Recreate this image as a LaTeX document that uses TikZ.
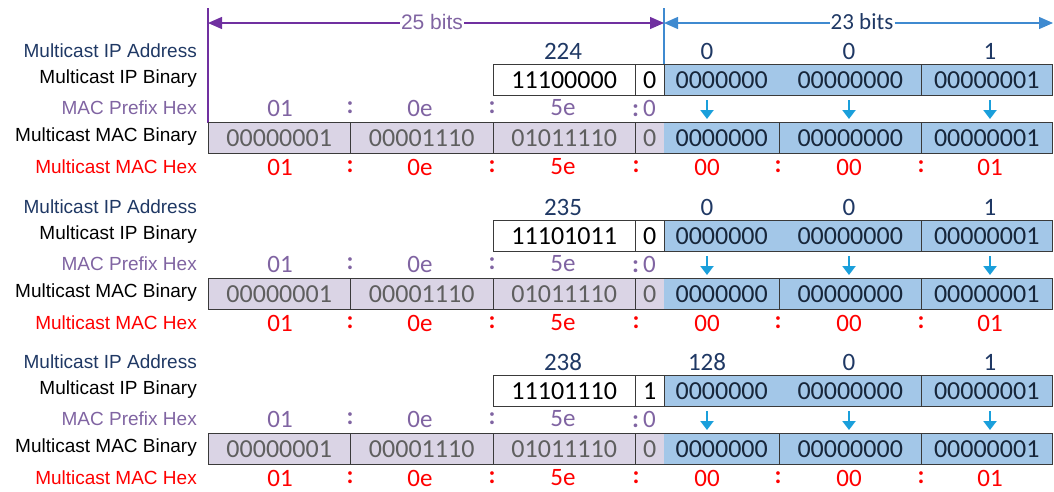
\documentclass[tikz,border=0pt]{standalone}
\usepackage{fontspec}
\setmainfont{Liberation Sans}
\newfontfamily\numfont{Carlito}
\usetikzlibrary{arrows.meta}
\definecolor{navy}{HTML}{1F3864}
\definecolor{prefixpurple}{HTML}{8064A2}
\definecolor{dimpurple}{HTML}{7030A0}
\definecolor{dimblue}{HTML}{3F8AD0}
\definecolor{lavender}{HTML}{DAD4E5}
\definecolor{lavtext}{HTML}{5F5F5F}
\definecolor{cellblue}{HTML}{A3C7E8}
\definecolor{celltext}{HTML}{17263A}
\definecolor{borderg}{HTML}{3A3A3A}
\definecolor{arrowcyan}{HTML}{1A9FDB}
\definecolor{hexred}{HTML}{FF0000}
\begin{document}
\begin{tikzpicture}[x=1pt,y=-1pt,
  lbl/.style={anchor=east,inner sep=0pt,font=\fontsize{19}{22}\selectfont},
  num/.style={inner sep=0pt,font=\numfont\fontsize{25}{30}\selectfont},
  colon/.style={inner sep=0pt,font=\numfont\bfseries\fontsize{25}{30}\selectfont},
  cell/.style={anchor=west,inner sep=0pt,minimum height=30pt,
    font=\numfont\fontsize{26}{30}\selectfont},
  whitecell/.style={cell,fill=white,text=black},
  bluecell/.style={cell,fill=cellblue,text=celltext},
  lavcell/.style={cell,fill=lavender,text=lavtext},
  border/.style={draw=borderg,line width=0.9pt},
  dimline/.style={line width=1.3pt},
  darr/.style={draw=arrowcyan,line width=2.6pt,-{Triangle[length=9pt,width=13pt]}},
]
\useasboundingbox (0,0) rectangle (1054,491);

% bit-count dimension lines
\coordinate (ptop) at (208,8);
\coordinate (pbot) at (208,123);
\coordinate (btop) at (664,8);
\coordinate (bbot) at (664,65);
\coordinate (pl) at (208,23);
\coordinate (pr) at (664,23);
\coordinate (bl) at (664,23);
\coordinate (br) at (1053,23);
\draw[dimpurple,line width=1.2pt] (ptop) -- (pbot);
\draw[dimblue,line width=1.2pt] (btop) -- (bbot);
\node[inner sep=1pt,text=prefixpurple,font=\fontsize{21}{24}\selectfont] (b25) at (432,22) {25 bits};
\node[inner sep=1pt,text=navy,font=\numfont\fontsize{23}{26}\selectfont] (b23) at (862,22) {23 bits};
\draw[dimpurple,dimline,-{Triangle[length=14pt,width=12pt]}] (b25.west |- pl) -- (pl);
\draw[dimpurple,dimline,-{Triangle[length=14pt,width=12pt]}] (b25.east |- pr) -- (pr);
\draw[dimblue,dimline,-{Triangle[length=14pt,width=12pt]}] (b23.west |- bl) -- (bl);
\draw[dimblue,dimline,-{Triangle[length=14pt,width=12pt]}] (b23.east |- br) -- (br);

\foreach \b/\oy/\first/\fbits/\nbit/\second in
  {1/0/224/11100000/0/0, 2/156/235/11101011/0/0, 3/311/238/11101110/1/128}{
\begin{scope}[shift={(0,\oy)}]
  % row labels
  \node[lbl,text=navy] (la\b) at (197,51) {Multicast IP Address};
  \node[lbl,text=black] (lb\b) at (197,79) {Multicast IP Binary};
  \node[lbl,text=prefixpurple] (lc\b) at (197,108) {MAC Prefix Hex};
  \node[lbl,text=black] (ld\b) at (197,137) {Multicast MAC Binary};
  \node[lbl,text=hexred] (le\b) at (197,167) {Multicast MAC Hex};

  % dotted-decimal address
  \node[num,text=navy] (ipa\b) at (563,51) {\first};
  \node[num,text=navy] (ipb\b) at (707,51) {\second};
  \node[num,text=navy] (ipc\b) at (849,51) {0};
  \node[num,text=navy] (ipd\b) at (990,51) {1};

  % IP binary row
  \node[whitecell,minimum width=142pt] (ib\b a) at (493,80) {\fbits};
  \node[whitecell,minimum width=29pt] (ib\b b) at (635,80) {\nbit};
  \node[bluecell,minimum width=115pt] (ib\b c) at (664,80) {0000000};
  \node[bluecell,minimum width=142pt] (ib\b d) at (779,80) {00000000};
  \node[bluecell,minimum width=131pt] (ib\b e) at (921,80) {00000001};
  \draw[border] (ib\b a.north west) rectangle (ib\b e.south east);
  \foreach \c in {a,d}{\draw[border] (ib\b\c.north east) -- (ib\b\c.south east);}
  \draw[border] (ib\b c.north west) -- (ib\b c.south west);

  % fixed MAC prefix
  \node[num,text=prefixpurple] (pa\b) at (280,108) {01};
  \node[colon,text=prefixpurple] (pc1\b) at (350,108) {:};
  \node[num,text=prefixpurple] (pb\b) at (420,108) {0e};
  \node[colon,text=prefixpurple] (pc2\b) at (492,108) {:};
  \node[num,text=prefixpurple] (pd\b) at (563,108) {5e};
  \node[num,text=prefixpurple] (pe\b) at (644,108) {{\bfseries:}\,0};

  % copied low-order bits
  \coordinate (ta\b) at (707,100);
  \coordinate (tb\b) at (849,100);
  \coordinate (tc\b) at (990,100);
  \coordinate (ua\b) at (707,119);
  \coordinate (ub\b) at (849,119);
  \coordinate (uc\b) at (990,119);
  \draw[darr] (ta\b) -- (ua\b);
  \draw[darr] (tb\b) -- (ub\b);
  \draw[darr] (tc\b) -- (uc\b);

  % MAC binary row
  \node[lavcell,minimum width=142pt] (mb\b a) at (208,138) {00000001};
  \node[lavcell,minimum width=143pt] (mb\b b) at (350,138) {00001110};
  \node[lavcell,minimum width=142pt] (mb\b c) at (493,138) {01011110};
  \node[lavcell,minimum width=29pt] (mb\b d) at (635,138) {0};
  \node[bluecell,minimum width=115pt] (mb\b e) at (664,138) {0000000};
  \node[bluecell,minimum width=142pt] (mb\b f) at (779,138) {00000000};
  \node[bluecell,minimum width=131pt] (mb\b g) at (921,138) {00000001};
  \draw[border] (mb\b a.north west) rectangle (mb\b g.south east);
  \foreach \c in {a,b,c,e,f}{\draw[border] (mb\b\c.north east) -- (mb\b\c.south east);}

  % MAC address in hex
  \node[num,text=hexred] (ha\b) at (280,167) {01};
  \node[colon,text=hexred] (hc1\b) at (350,167) {:};
  \node[num,text=hexred] (hb\b) at (420,167) {0e};
  \node[colon,text=hexred] (hc2\b) at (492,167) {:};
  \node[num,text=hexred] (hd\b) at (563,167) {5e};
  \node[colon,text=hexred] (hc3\b) at (636,167) {:};
  \node[num,text=hexred] (he\b) at (707,167) {00};
  \node[colon,text=hexred] (hc4\b) at (778,167) {:};
  \node[num,text=hexred] (hf\b) at (849,167) {00};
  \node[colon,text=hexred] (hc5\b) at (921,167) {:};
  \node[num,text=hexred] (hg\b) at (990,167) {01};
\end{scope}
}
\end{tikzpicture}
\end{document}
